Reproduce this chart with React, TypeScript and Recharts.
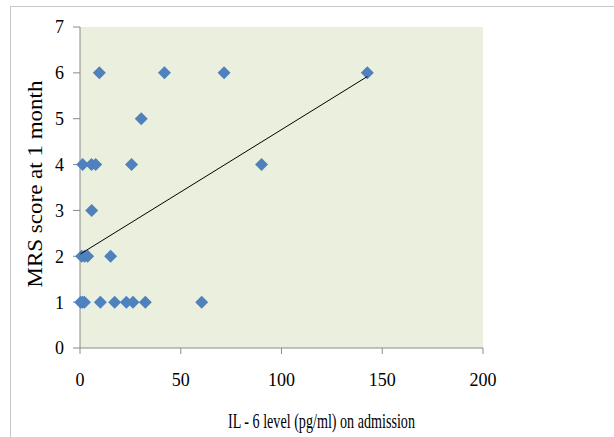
import React from "react";
import {
  ScatterChart,
  Scatter,
  XAxis,
  YAxis,
  CartesianGrid,
  Label,
} from "recharts";

// IL-6 level (pg/ml) vs MRS score at 1 month
const il6Levels = [
  0.3, 1.2, 2.2, 10.1, 17.2, 23.0, 26.3, 32.4, 60.4,
  0.8, 2.3, 3.8, 15.2,
  5.8,
  1.3, 5.7, 7.8, 25.6, 90.1,
  30.4,
  9.6, 41.9, 71.5, 142.6,
];
const mrsScores = [
  1, 1, 1, 1, 1, 1, 1, 1, 1,
  2, 2, 2, 2,
  3,
  4, 4, 4, 4, 4,
  5,
  6, 6, 6, 6,
];
const trendX = [0.2, 142.6];
const trendY = [2.05, 5.92];
const xTicks = [0, 50, 100, 150, 200];
const yTicks = [0, 1, 2, 3, 4, 5, 6, 7];

const points = il6Levels.map((x, i) => ({ x, y: mrsScores[i] }));
const trend = trendX.map((x, i) => ({ x, y: trendY[i] }));

const serif = "'Liberation Serif', 'Times New Roman', serif";
const axisGray = "#8a8a8a";

const Diamond = (props: any) => {
  const { cx, cy } = props;
  const r = 6.5;
  return (
    <polygon
      points={`${cx},${cy - r} ${cx + r},${cy} ${cx},${cy + r} ${cx - r},${cy}`}
      fill="#4f81bd"
    />
  );
};

const XTitle = (props: any) => {
  const vb = props.viewBox || {};
  const cx = vb.x + vb.width / 2 + 40;
  return (
    <text
      x={cx}
      y={428}
      textAnchor="middle"
      textLength={187}
      lengthAdjust="spacingAndGlyphs"
      style={{ fill: "#000", fontSize: 22, fontFamily: serif }}
    >
      IL - 6 level (pg/ml) on admission
    </text>
  );
};

const YTitle = () => {
  const cx = 42;
  const cy = 184;
  return (
    <text
      x={cx}
      y={cy}
      textAnchor="middle"
      transform={`rotate(-90 ${cx} ${cy})`}
      textLength={207}
      lengthAdjust="spacingAndGlyphs"
      style={{ fill: "#000", fontSize: 20, fontFamily: serif }}
    >
      MRS score at 1 month
    </text>
  );
};

export default function App() {
  return (
    <div
      style={{
        position: "absolute",
        left: 0,
        top: 0,
        width: 614,
        height: 437,
        background: "#fff",
      }}
    >
      <div
        style={{
          position: "absolute",
          left: 10,
          top: 6,
          width: 620,
          height: 440,
          borderLeft: "1px solid #c8c8c8",
          borderTop: "1px solid #c8c8c8",
        }}
      />
      <ScatterChart
        width={614}
        height={437}
        margin={{ top: 27, right: 131, bottom: 0, left: 0 }}
        style={{ position: "absolute", left: 0, top: 0 }}
      >
        <CartesianGrid horizontal={false} vertical={false} fill="#ebefde" />
        <XAxis
          type="number"
          dataKey="x"
          domain={[0, 200]}
          ticks={xTicks}
          height={89}
          stroke={axisGray}
          tickSize={6}
          tickMargin={19}
          tick={{ fill: "#000", fontSize: 18, fontFamily: serif }}
        >
          <Label content={<XTitle />} />
        </XAxis>
        <YAxis
          type="number"
          dataKey="y"
          domain={[0, 7]}
          ticks={yTicks}
          width={80}
          stroke={axisGray}
          tickSize={7}
          tickMargin={9}
          tick={{ fill: "#000", fontSize: 18, fontFamily: serif }}
        >
          <Label content={<YTitle />} />
        </YAxis>
        <Scatter
          data={points}
          shape={<Diamond />}
          isAnimationActive={false}
        />
        <Scatter
          data={trend}
          line={{ stroke: "#000", strokeWidth: 1 }}
          shape={() => <g />}
          isAnimationActive={false}
        />
      </ScatterChart>
    </div>
  );
}
